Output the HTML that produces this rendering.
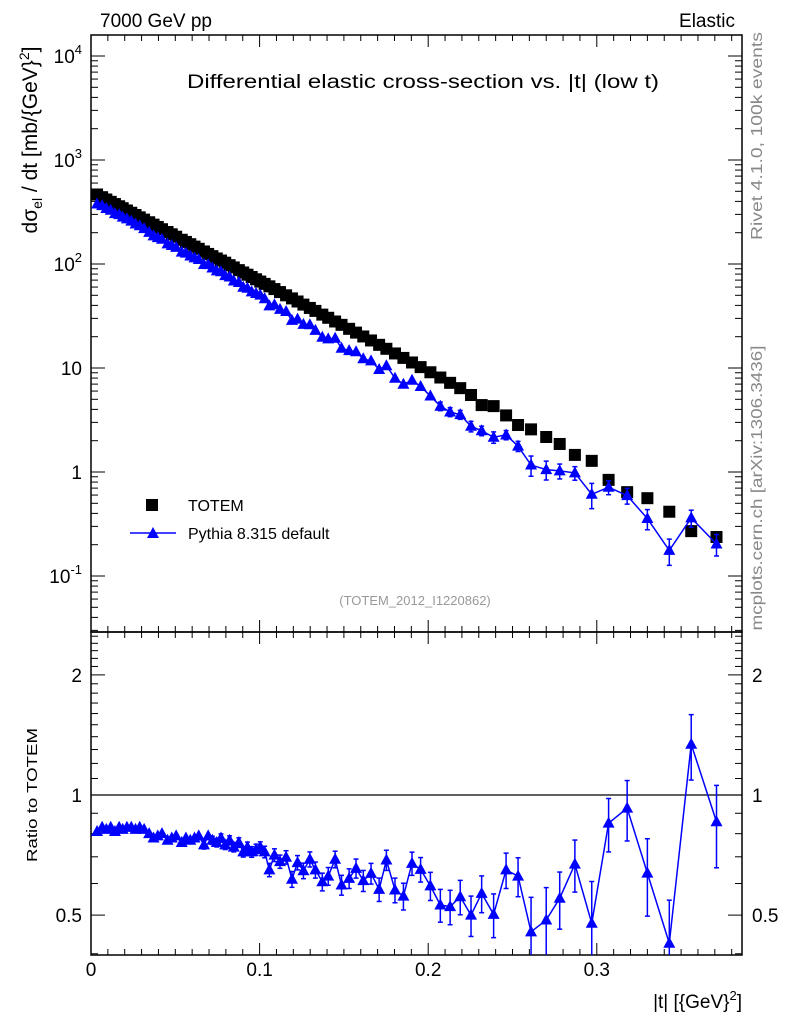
<!DOCTYPE html>
<html><head><meta charset="utf-8"><style>
body{margin:0;background:#fff}
svg text{font-family:"Liberation Sans",sans-serif}
</style></head><body>
<svg id="c" width="786" height="1024" xmlns="http://www.w3.org/2000/svg">
<text x="100" y="27" font-size="19">7000 GeV pp</text>
<text x="735" y="27" font-size="19" text-anchor="end">Elastic</text>
<text x="423" y="88" font-size="19" text-anchor="middle" textLength="472" lengthAdjust="spacingAndGlyphs">Differential elastic cross-section vs. |t| (low t)</text>
<text transform="translate(37,140) rotate(-90)" font-size="21" text-anchor="middle">dσ<tspan font-size="14" dy="5">el</tspan><tspan dy="-5"> / dt [mb/{GeV}</tspan><tspan font-size="14" dy="-8">2</tspan><tspan dy="8">]</tspan></text>
<text transform="translate(762,136) rotate(-90)" font-size="16" fill="#888" text-anchor="middle" textLength="208" lengthAdjust="spacingAndGlyphs">Rivet 4.1.0,  100k events</text>
<text transform="translate(762,488) rotate(-90)" font-size="16" fill="#888" text-anchor="middle" textLength="285" lengthAdjust="spacingAndGlyphs">mcplots.cern.ch [arXiv:1306.3436]</text>
<text x="415" y="605" font-size="13" fill="#999" text-anchor="middle">(TOTEM_2012_I1220862)</text>
<text transform="translate(37,795) rotate(-90)" font-size="15" text-anchor="middle" textLength="134" lengthAdjust="spacingAndGlyphs">Ratio to TOTEM</text>
<text x="742" y="1008" font-size="19" text-anchor="end">|t| [{GeV}<tspan font-size="13" dy="-8">2</tspan><tspan dy="8">]</tspan></text>
<g>
<rect x="146" y="499" width="12" height="12" fill="#000"/>
<text x="188" y="511" font-size="16">TOTEM</text>
<line x1="130" y1="533" x2="176" y2="533" stroke="#00f" stroke-width="1.5"/>
<polygon points="153,527 159,538 147,538" fill="#00f"/>
<text x="188" y="539" font-size="16">Pythia 8.315 default</text>
</g>
<g id="main"></g><g id="ratio"></g>
</svg>
<script>
const tValues=[0.0036,0.0066,0.0091,0.0117,0.0142,0.0167,0.0188,0.0213,0.0239,0.0264,0.0289,0.0315,0.0345,0.0371,0.0396,0.0421,0.0454,0.0479,0.0505,0.0538,0.0563,0.0589,0.0614,0.0639,0.0670,0.0695,0.0720,0.0746,0.0771,0.0796,0.0822,0.0847,0.0877,0.0903,0.0928,0.0953,0.0979,0.1004,0.1030,
0.1058,0.1088,0.1121,0.1157,0.1192,0.1225,0.1260,0.1298,0.1331,0.1372,0.1407,0.1448,0.1486,0.1531,0.1572,0.1615,0.1661,0.1709,0.1752,0.1803,0.1853,0.1904,0.1955,0.2013,0.2072,0.2130,0.2190,0.2254,0.2317,0.2388,0.2462,0.2533,
0.261,0.270,0.278,0.287,0.297,0.307,0.318,0.330,0.343,0.356,0.371];
const totemValues=[466,439,417,396,377,359,344,327,311,296,281,267,252,239,227,216,203,193,183,171,163,155,147,140,132,125,119,113,108,103,97.4,92.7,87.3,82.9,78.9,75.0,71.3,67.8,64.4,
61.0,57.4,53.7,50.0,46.7,43.6,40.7,37.8,35.4,32.6,30.4,28.0,26.0,23.8,21.9,20.1,18.4,16.7,15.3,13.8,12.5,11.3,10.2,9.1,8.1,7.2,6.4,5.5,4.4,4.3,3.5,2.83,
2.57,2.17,1.86,1.46,1.28,0.84,0.64,0.56,0.415,0.27,0.237];
const ratioValues=[0.81,0.83,0.82,0.83,0.81,0.83,0.82,0.83,0.83,0.82,0.83,0.82,0.80,0.78,0.79,0.80,0.77,0.78,0.79,0.76,0.78,0.77,0.78,0.79,0.75,0.79,0.77,0.76,0.78,0.75,0.77,0.74,0.76,0.72,0.74,0.72,0.73,0.74,0.72,
0.649,0.707,0.681,0.698,0.615,0.677,0.646,0.690,0.649,0.606,0.626,0.690,0.595,0.618,0.655,0.610,0.636,0.580,0.687,0.578,0.558,0.674,0.651,0.592,0.530,0.525,0.556,0.500,0.567,0.502,0.649,0.626,
0.454,0.486,0.551,0.671,0.477,0.85,0.927,0.637,0.425,1.34,0.857];
const ratioErrors=[0.012,0.012,0.012,0.012,0.012,0.012,0.012,0.012,0.012,0.012,0.012,0.012,0.014,0.014,0.014,0.014,0.015,0.015,0.015,0.016,0.016,0.016,0.017,0.017,0.018,0.018,0.018,0.019,0.019,0.02,0.02,0.02,0.021,0.021,0.022,0.022,0.023,0.023,0.024,
0.025,0.026,0.026,0.027,0.028,0.028,0.029,0.03,0.03,0.031,0.032,0.033,0.034,0.035,0.036,0.037,0.038,0.039,0.04,0.041,0.043,0.045,0.046,0.048,0.05,0.052,0.055,0.058,0.06,0.063,0.066,0.07,
0.1,0.1,0.09,0.1,0.13,0.13,0.16,0.14,0.12,0.25,0.2];
const xTicks=[0,0.1,0.2,0.3];
const xTickLabels=["0","0.1","0.2","0.3"];
const yMainTicks=[-1,0,1,2,3,4];
const yRatioTicks=[0.5,1,2];
const yRatioLabels=["0.5","1","2"];

const NS="http://www.w3.org/2000/svg";
const L=91,R=742,MT=35,MB=632,RT=632,RB=955;
const xs=t=>L+(t)*1686;
const ym=v=>472-Math.log10(v)*104;
const yr=r=>795-Math.log10(r)*399;
function mk(tag,attrs,parent){const e=document.createElementNS(NS,tag);for(const k in attrs)e.setAttribute(k,attrs[k]);parent.appendChild(e);return e;}
const gm=document.getElementById('main'),gr=document.getElementById('ratio');
let f=mk('rect',{x:L,y:MT,width:R-L,height:MB-MT,fill:'none',stroke:'#000','stroke-width':1.5},gm);


f=mk('rect',{x:L,y:RT,width:R-L,height:RB-RT,fill:'none',stroke:'#000','stroke-width':1.5},gr);


for(let i=0;i<=38;i++){const t=i/100,x=xs(t);const maj=i%10===0;const len=maj?12:6;
 for(const [y0,d] of [[MT,1],[MB,-1],[RT,1],[RB,-1]]){mk('line',{x1:x,x2:x,y1:y0,y2:y0+d*len,stroke:'#000','stroke-width':1},gm);}}
xTicks.forEach((t,i)=>{const tx=mk('text',{x:xs(t),y:976,'font-size':19,'text-anchor':'middle'},gr);tx.textContent=xTickLabels[i];

});
for(let d=-2;d<=4;d++){for(let m=1;m<=9;m++){const v=m*Math.pow(10,d);const y=ym(v);if(y<MT||y>MB)continue;const len=m===1?14:7;
 mk('line',{x1:L,x2:L+len,y1:y,y2:y,stroke:'#000'},gm);mk('line',{x1:R,x2:R-len,y1:y,y2:y,stroke:'#000'},gm);}}
yMainTicks.forEach(d=>{const y=ym(Math.pow(10,d));const tx=mk('text',{x:82,y:y+7,'font-size':19,'text-anchor':'end'},gm);
 if(d===0)tx.textContent='1';else if(d===1)tx.textContent='10';else{tx.textContent='10';const s=mk('tspan',{'font-size':13,dy:-9},tx);s.textContent=String(d);}
 
 });
for(let i=4;i<=25;i++){const r=i/10;const y=yr(r);if(y<RT||y>RB)continue;const maj=(i===5||i===10||i===20);const len=maj?14:7;
 mk('line',{x1:L,x2:L+len,y1:y,y2:y,stroke:'#000'},gr);mk('line',{x1:R,x2:R-len,y1:y,y2:y,stroke:'#000'},gr);}
yRatioTicks.forEach((r,i)=>{for(const [x,a] of [[82,'end'],[752,'start']]){const tx=mk('text',{x:x,y:yr(r)+7,'font-size':19,'text-anchor':a},gr);tx.textContent=yRatioLabels[i];
 
 }});
let one=mk('line',{x1:L,x2:R,y1:yr(1),y2:yr(1),stroke:'#000','stroke-width':1.2},gr);


const defs=mk('defs',{},document.getElementById('c'));
const c1=mk('clipPath',{id:'cm'},defs);mk('rect',{x:L,y:MT,width:R-L,height:MB-MT},c1);
const c2=mk('clipPath',{id:'cr'},defs);mk('rect',{x:L,y:RT,width:R-L,height:RB-RT},c2);
const gmd=mk('g',{'clip-path':'url(#cm)'},gm),grd=mk('g',{'clip-path':'url(#cr)'},gr);
tValues.forEach((t,i)=>{const r=mk('rect',{x:xs(t)-6,y:ym(totemValues[i])-6,width:12,height:12,fill:'#000'},gmd);

});
function tri(x,y,g,name){const p=mk('polygon',{points:`${x},${y-6.5} ${x+6},${y+4.5} ${x-6},${y+4.5}`,fill:'#00f'},g);

}
function series(g,yf,vals,errs){
 const pts=tValues.map((t,i)=>xs(t)+','+yf(vals[i])).join(' ');
 const pl=mk('polyline',{points:pts,fill:'none',stroke:'#00f','stroke-width':1.5},g);
 
 
 tValues.forEach((t,i)=>{const x=xs(t),y1=yf(vals[i]-errs[i]),y2=yf(vals[i]+errs[i]);
  if(Math.abs(y1-y2)>8){mk('line',{x1:x,x2:x,y1:y1,y2:y2,stroke:'#00f','stroke-width':1.5},g);
  mk('line',{x1:x-2.5,x2:x+2.5,y1:y1,y2:y1,stroke:'#00f','stroke-width':1.5},g);mk('line',{x1:x-2.5,x2:x+2.5,y1:y2,y2:y2,stroke:'#00f','stroke-width':1.5},g);}
  tri(x,yf(vals[i]),g,'pythia-point');});
}
const mcVals=tValues.map((t,i)=>totemValues[i]*ratioValues[i]);
const mcErrs=tValues.map((t,i)=>totemValues[i]*ratioErrors[i]);
series(gmd,ym,mcVals,mcErrs);
series(grd,yr,ratioValues,ratioErrors);
</script>
</body></html>
